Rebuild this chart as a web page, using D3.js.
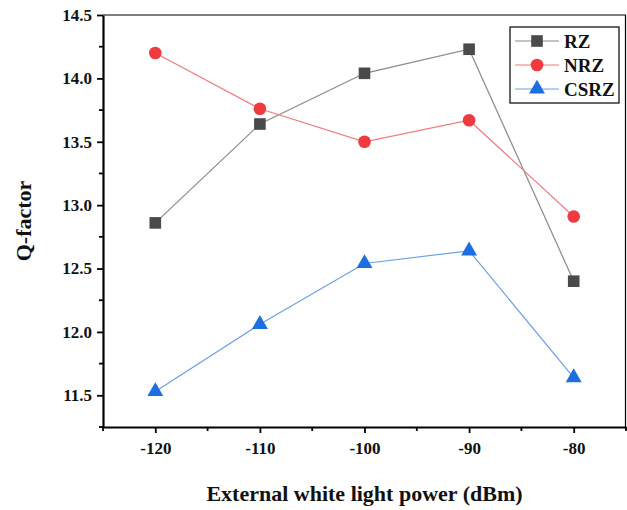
<!DOCTYPE html>
<html>
<head>
<meta charset="utf-8">
<script src="https://cdn.jsdelivr.net/npm/d3@7"></script>
<style>
  body { margin: 0; background: #fff; }
  svg text { font-family: "Liberation Serif", "Times New Roman", serif; font-weight: bold; }
</style>
</head>
<body>
<svg width="627" height="510"></svg>
<script>
// data
var powers = [-120, -110, -100, -90, -80];
var rz   = [12.86, 13.64, 14.04, 14.23, 12.40];
var nrz  = [14.20, 13.76, 13.50, 13.67, 12.91];
var csrz = [11.53, 12.06, 12.54, 12.64, 11.64];
var yTicks = [11.5, 12.0, 12.5, 13.0, 13.5, 14.0, 14.5];
var xTicks = [-120, -110, -100, -90, -80];

var svg = d3.select("svg"),
    margin = {top: 15, right: 1, bottom: 83, left: 103},
    width = 627 - margin.left - margin.right,
    height = 510 - margin.top - margin.bottom,
    g = svg.append("g").attr("transform", "translate(" + margin.left + "," + margin.top + ")");

var x = d3.scaleLinear().domain([-125, -75]).range([0, width]);
var y = d3.scaleLinear().domain([11.25, 14.5]).range([height, 0]);

var series = [
  {name: "RZ", values: rz, line: "#8a8a8a", fill: "#4a4a4a", shape: d3.symbolSquare, size: 135},
  {name: "NRZ", values: nrz, line: "#f27a7e", fill: "#ef3a40", shape: d3.symbolCircle, size: 125},
  {name: "CSRZ", values: csrz, line: "#6a9fe8", fill: "#1b6fe0", shape: d3.symbolTriangle, size: 110}
];

// frame: thin top/right
g.append("line").attr("x1", 0).attr("x2", width).attr("y1", 0).attr("y2", 0)
  .attr("stroke", "#000").attr("stroke-width", 1.2);
g.append("line").attr("x1", width - 0.5).attr("x2", width - 0.5).attr("y1", 0).attr("y2", height)
  .attr("stroke", "#000").attr("stroke-width", 1.2);

// axes
var xAxis = g.append("g")
    .attr("transform", "translate(0," + height + ")")
    .call(d3.axisBottom(x).tickValues(xTicks).tickFormat(function(d) { return String(d); })
      .tickSize(6).tickPadding(9).tickSizeOuter(0));
var yAxis = g.append("g")
    .call(d3.axisLeft(y).tickValues(yTicks).tickFormat(function(d) { return d.toFixed(1); })
      .tickSize(6).tickPadding(5).tickSizeOuter(0));

[xAxis, yAxis].forEach(function(a) {
  a.select(".domain").attr("stroke-width", 2.2);
  a.selectAll(".tick line").attr("stroke-width", 1.8);
  a.selectAll("text").attr("font-size", 17).attr("fill", "#111")
    .attr("font-family", "Liberation Serif, serif").attr("font-weight", "bold");
});

// minor ticks
g.append("g").selectAll("line")
  .data(d3.range(-125, -74, 5).filter(function(d) { return xTicks.indexOf(d) < 0; }))
  .enter().append("line")
  .attr("x1", function(d) { return x(d); }).attr("x2", function(d) { return x(d); })
  .attr("y1", height).attr("y2", height + 4)
  .attr("stroke", "#000").attr("stroke-width", 1.8);
g.append("g").selectAll("line")
  .data(d3.range(11.25, 14.51, 0.25).filter(function(d) { return Math.abs(d * 2 - Math.round(d * 2)) > 0.01; }))
  .enter().append("line")
  .attr("x1", -4).attr("x2", 0)
  .attr("y1", function(d) { return y(d); }).attr("y2", function(d) { return y(d); })
  .attr("stroke", "#000").attr("stroke-width", 1.8);

// lines and markers
var line = d3.line()
  .x(function(d, i) { return x(powers[i]); })
  .y(function(d) { return y(d); });

series.forEach(function(s) {
  g.append("path")
    .datum(s.values)
    .attr("fill", "none")
    .attr("stroke", s.line)
    .attr("stroke-width", 1.2)
    .attr("d", line);
});
series.forEach(function(s) {
  g.append("g").selectAll("path")
    .data(s.values)
    .enter().append("path")
    .attr("d", d3.symbol().type(s.shape).size(s.size))
    .attr("transform", function(d, i) { return "translate(" + x(powers[i]) + "," + y(d) + ")"; })
    .attr("fill", s.fill);
});

// legend
var legend = g.append("g").attr("transform", "translate(" + (width - 116) + ",12)");
legend.append("rect")
  .attr("width", 109).attr("height", 76)
  .attr("fill", "#fff").attr("stroke", "#000").attr("stroke-width", 1.2);
var item = legend.selectAll("g.item")
  .data(series)
  .enter().append("g")
  .attr("class", "item")
  .attr("transform", function(d, i) { return "translate(0," + (14 + i * 24) + ")"; });
item.append("line")
  .attr("x1", 5).attr("x2", 49)
  .attr("stroke", function(d) { return d.line; }).attr("stroke-width", 1.2);
item.append("path")
  .attr("d", function(d) { return d3.symbol().type(d.shape).size(d.size)(); })
  .attr("transform", "translate(27,0)")
  .attr("fill", function(d) { return d.fill; });
item.append("text")
  .attr("x", 54).attr("dy", "0.35em")
  .attr("font-size", 19).attr("fill", "#111")
  .text(function(d) { return d.name; });

// axis titles
svg.append("text")
  .attr("transform", "translate(31," + (margin.top + height / 2) + ") rotate(-90)")
  .attr("text-anchor", "middle")
  .attr("font-size", 22).attr("fill", "#111")
  .text("Q-factor");
svg.append("text")
  .attr("x", margin.left + width / 2).attr("y", 501)
  .attr("text-anchor", "middle")
  .attr("font-size", 22).attr("fill", "#111")
  .text("External white light power (dBm)");
</script>
</body>
</html>
